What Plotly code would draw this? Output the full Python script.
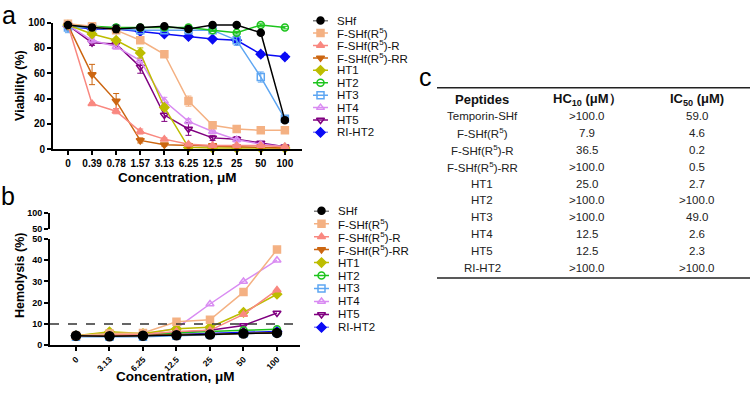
import plotly.graph_objects as go

W, H = 750, 398

# ---------------- data ----------------
conc_a = ["0", "0.39", "0.78", "1.57", "3.13", "6.25", "12.5", "25", "50", "100"]
conc_b = ["0", "3.13", "6.25", "12.5", "25", "50", "100"]

names = ["SHf", "F-SHf(R<sup>5</sup>)", "F-SHf(R<sup>5</sup>)-R", "F-SHf(R<sup>5</sup>)-RR",
         "HT1", "HT2", "HT3", "HT4", "HT5", "RI-HT2"]

# Panel a: viability (%)
via_shf = [98, 96, 95, 96, 97, 95, 98, 98, 92, 23]
via_f = [99, 97, 94, 86, 75, 38, 19, 16, 15, 15]
via_fr = [98, 36, 30, 14, 8, 4, 3, 3, 3, 2]
via_frr = [98, 59, 38, 7, 3.5, 3, 3, 2, 2, 1]
via_ht1 = [98, 91, 86, 76, 33, 1.5, 1, 1, 1, 1]
via_ht2 = [98, 97, 96, 96, 96, 96, 94, 92, 98, 96]
via_ht3 = [96, 96, 95, 94, 94, 94, 94, 86, 57, 24]
via_ht4 = [98, 86, 81, 70, 38, 22, 14, 7.5, 4, 2]
via_ht5 = [98, 84, 83, 65, 27, 16, 9, 8, 5, 2]
via_ri = [97, 95, 95, 93, 91, 89, 87, 86, 75, 73]

err_shf = [1, 2, 3, 2, 1, 2, 1, 1, 1, 2]
err_f = [1, 1, 1, 2, 2, 4, 2, 2, 1, 1]
err_fr = [1, 1, 2, 2, 1, 1, 1, 1, 0.5, 0.5]
err_frr = [1, 8, 6, 2, 1, 1, 0.5, 0.5, 0.5, 0.5]
err_ht1 = [1, 1, 1, 4, 2, 1, 0.5, 0.5, 0.5, 0.5]
err_ht2 = [1, 1, 2, 1, 1, 2, 1, 1, 1, 1]
err_ht3 = [4, 1, 1, 1, 1, 1, 1, 4, 4, 2]
err_ht4 = [1, 2, 2, 2, 3, 2, 1, 1, 1, 0.5]
err_ht5 = [1, 2, 2, 5, 5, 5, 2, 2, 1, 0.5]
err_ri = [1, 1, 1, 1, 1, 1, 1, 1, 2, 2]

# Panel b: hemolysis (%)
hem_shf = [4.5, 4.2, 4.5, 4.7, 5.0, 5.5, 5.8]
hem_f = [4.5, 5.5, 5.8, 11, 12, 25, 45]
hem_fr = [4.5, 5.0, 5.0, 6.5, 7.0, 14.5, 26]
hem_frr = [4.5, 4.5, 4.5, 5.0, 5.0, 5.5, 6.0]
hem_ht1 = [4.5, 6.3, 5.5, 7.8, 8.5, 15.5, 24]
hem_ht2 = [4.5, 5.8, 5.2, 6.0, 6.5, 7.0, 7.5]
hem_ht3 = [4.0, 4.0, 4.0, 4.5, 5.0, 5.5, 6.0]
hem_ht4 = [4.5, 5.0, 5.0, 8.0, 19.4, 30, 40]
hem_ht5 = [4.5, 4.5, 4.5, 6.0, 7.0, 9.3, 15.2]
hem_ri = [4.5, 4.5, 4.5, 5.0, 5.5, 6.0, 6.5]
hem_threshold = 10

# Panel c: table
tbl_header = ["Peptides", "HC<sub>10</sub> (μM）", "IC<sub>50</sub> (μM)"]
tbl_peptides = ["Temporin-SHf", "F-SHf(R<sup>5</sup>)", "F-SHf(R<sup>5</sup>)-R", "F-SHf(R<sup>5</sup>)-RR",
                "HT1", "HT2", "HT3", "HT4", "HT5", "RI-HT2"]
tbl_hc10 = [">100.0", "7.9", "36.5", ">100.0", "25.0", ">100.0", ">100.0", "12.5", "12.5", ">100.0"]
tbl_ic50 = ["59.0", "4.6", "0.2", "0.5", "2.7", ">100.0", "49.0", "2.6", "2.3", ">100.0"]

via = [via_shf, via_f, via_fr, via_frr, via_ht1, via_ht2, via_ht3, via_ht4, via_ht5, via_ri]
errs = [err_shf, err_f, err_fr, err_frr, err_ht1, err_ht2, err_ht3, err_ht4, err_ht5, err_ri]
hem = [hem_shf, hem_f, hem_fr, hem_frr, hem_ht1, hem_ht2, hem_ht3, hem_ht4, hem_ht5, hem_ri]

# ---------------- style ----------------
colors = ["#000000", "#F4B183", "#F98880", "#CC6611", "#BDBD00",
          "#1DC41D", "#5EA6F2", "#D98CF2", "#800080", "#0A0AF5"]
symbols = ["circle", "square", "triangle-up", "triangle-down", "diamond",
           "circle-open", "square-open", "triangle-up-open", "triangle-down-open", "diamond"]
FONT = "Arial, Liberation Sans, sans-serif"


def fx(px):
    return px / W


def fy(py):
    return 1 - py / H


fig = go.Figure()

order = list(range(len(names)))[::-1]

for i in order:
    fig.add_trace(go.Scatter(
        x=conc_a, y=via[i], mode="lines+markers", xaxis="x", yaxis="y",
        line=dict(color=colors[i], width=1.5),
        marker=dict(symbol=symbols[i], size=7, color=colors[i],
                    line=dict(color=colors[i], width=1.5)),
        error_y=dict(type="data", array=errs[i], color=colors[i], thickness=1, width=3),
        cliponaxis=False, showlegend=False, hoverinfo="skip"))

for i in order:
    fig.add_trace(go.Scatter(
        x=conc_b, y=hem[i], mode="lines+markers", xaxis="x2", yaxis="y2",
        line=dict(color=colors[i], width=1.5),
        marker=dict(symbol=symbols[i], size=7 if i != 0 else 9, color=colors[i],
                    line=dict(color=colors[i], width=1.5)),
        cliponaxis=False, showlegend=False, hoverinfo="skip"))

# dummy trace so that the upper broken-axis segment is drawn
fig.add_trace(go.Scatter(x=[conc_b[0]], y=[None], xaxis="x2", yaxis="y3",
                         mode="markers", showlegend=False, hoverinfo="skip"))

# custom compact legends: (x axis, y axis, text x px, first row px, row step px)
legends = [("x3", "y4", 335, 16, 12.75), ("x4", "y5", 336, 211, 13.3)]
annotations = []
for leg_x, leg_y, tx, r0, dr in legends:
    for i, nm in enumerate(names):
        fig.add_trace(go.Scatter(
            x=[0, 0.5, 1], y=[i, i, i], mode="lines+markers", xaxis=leg_x, yaxis=leg_y,
            line=dict(color=colors[i], width=1.5),
            marker=dict(symbol=symbols[i], size=7, color=colors[i], opacity=[0, 1, 0],
                        line=dict(color=colors[i], width=1.5)),
            cliponaxis=False, showlegend=False, hoverinfo="skip"))
        annotations.append(dict(x=fx(tx), y=fy(r0 + i * dr), xref="paper", yref="paper",
                                text=nm, showarrow=False, xanchor="left", yanchor="middle",
                                font=dict(family=FONT, size=11.5, color="#111")))

axis_style = dict(showline=True, linewidth=2, linecolor="black", ticks="outside",
                  ticklen=4, tickwidth=2, tickcolor="black", showgrid=False,
                  zeroline=False, fixedrange=True)

fig.update_layout(
    width=W, height=H, margin=dict(l=0, r=0, t=0, b=0),
    paper_bgcolor="white", plot_bgcolor="white", showlegend=False,
    font=dict(family=FONT, color="black"),
    xaxis=dict(domain=[fx(53), fx(302)], type="category", range=[-0.62, 9.71], anchor="y",
               tickfont=dict(size=10, weight="bold"), **axis_style),
    yaxis=dict(domain=[fy(148), fy(18)], range=[0, 100], tickvals=[0, 20, 40, 60, 80, 100],
               anchor="x", tickfont=dict(size=10, weight="bold"), **axis_style),
    xaxis2=dict(domain=[fx(50), fx(300)], type="category", range=[-0.776, 6.687], anchor="y2",
                tickangle=-45, tickfont=dict(size=8.5, weight="bold"), **axis_style),
    yaxis2=dict(domain=[fy(349), fy(240)], range=[0, 50], tickvals=[0, 10, 20, 30, 40, 50],
                anchor="x2", tickfont=dict(size=9, weight="bold"), **axis_style),
    yaxis3=dict(domain=[fy(230), fy(213)], range=[50, 100], tickvals=[50, 100],
                anchor="x2", tickfont=dict(size=9, weight="bold"), **axis_style),
    xaxis3=dict(domain=[fx(313), fx(328)], range=[0, 1], visible=False, anchor="y4", fixedrange=True),
    yaxis4=dict(domain=[fy(legends[0][3] + 9 * legends[0][4]), fy(legends[0][3])], range=[9, 0],
                visible=False, anchor="x3", fixedrange=True),
    xaxis4=dict(domain=[fx(314), fx(329)], range=[0, 1], visible=False, anchor="y5", fixedrange=True),
    yaxis5=dict(domain=[fy(legends[1][3] + 9 * legends[1][4]), fy(legends[1][3])], range=[9, 0],
                visible=False, anchor="x4", fixedrange=True),
)

# threshold line in panel b
fig.add_shape(type="line", xref="x2 domain", yref="y2", x0=0, x1=1,
              y0=hem_threshold, y1=hem_threshold,
              line=dict(color="#333", width=1.5, dash="dash"))

# axis titles & panel letters
title_font = dict(family=FONT, size=13.5, color="black", weight="bold")


def label(px, py, text, font, angle=0):
    return dict(x=fx(px), y=fy(py), xref="paper", yref="paper", text=text, showarrow=False,
                xanchor="center", yanchor="middle", textangle=angle, font=font)


annotations += [
    label(177, 177, "Concentration, μM", title_font),
    label(175, 381, "Concentration, μM", title_font),
    label(20, 83, "Viability (%)", dict(family=FONT, size=12.5, color="black", weight="bold"), -90),
    label(20, 278, "Hemolysis (%)", dict(family=FONT, size=12.5, color="black", weight="bold"), -90),
    label(9, 10, "a", dict(family=FONT, size=25, color="black")),
    label(8, 196, "b", dict(family=FONT, size=25, color="black")),
    label(426, 74, "c", dict(family=FONT, size=25, color="black")),
]

# table (panel c)
col_x = [482, 587, 697]
header_y = 97
row_y0 = 114
row_dy = 17.3
for j, h in enumerate(tbl_header):
    annotations.append(label(col_x[j], header_y, h,
                             dict(family=FONT, size=13, color="#111", weight="bold")))
for r in range(len(tbl_peptides)):
    for j, col in enumerate((tbl_peptides, tbl_hc10, tbl_ic50)):
        annotations.append(label(col_x[j], row_y0 + r * row_dy, col[r],
                                 dict(family=FONT, size=11.5, color="#222")))
for ly in (85, 280):
    fig.add_shape(type="line", xref="paper", yref="paper", x0=fx(437), x1=1, y0=fy(ly), y1=fy(ly),
                  line=dict(color="#222", width=1.5))

fig.update_layout(annotations=annotations)
fig.write_html("out.html", config={"displayModeBar": False},
               post_script="document.body.style.margin='0';")
